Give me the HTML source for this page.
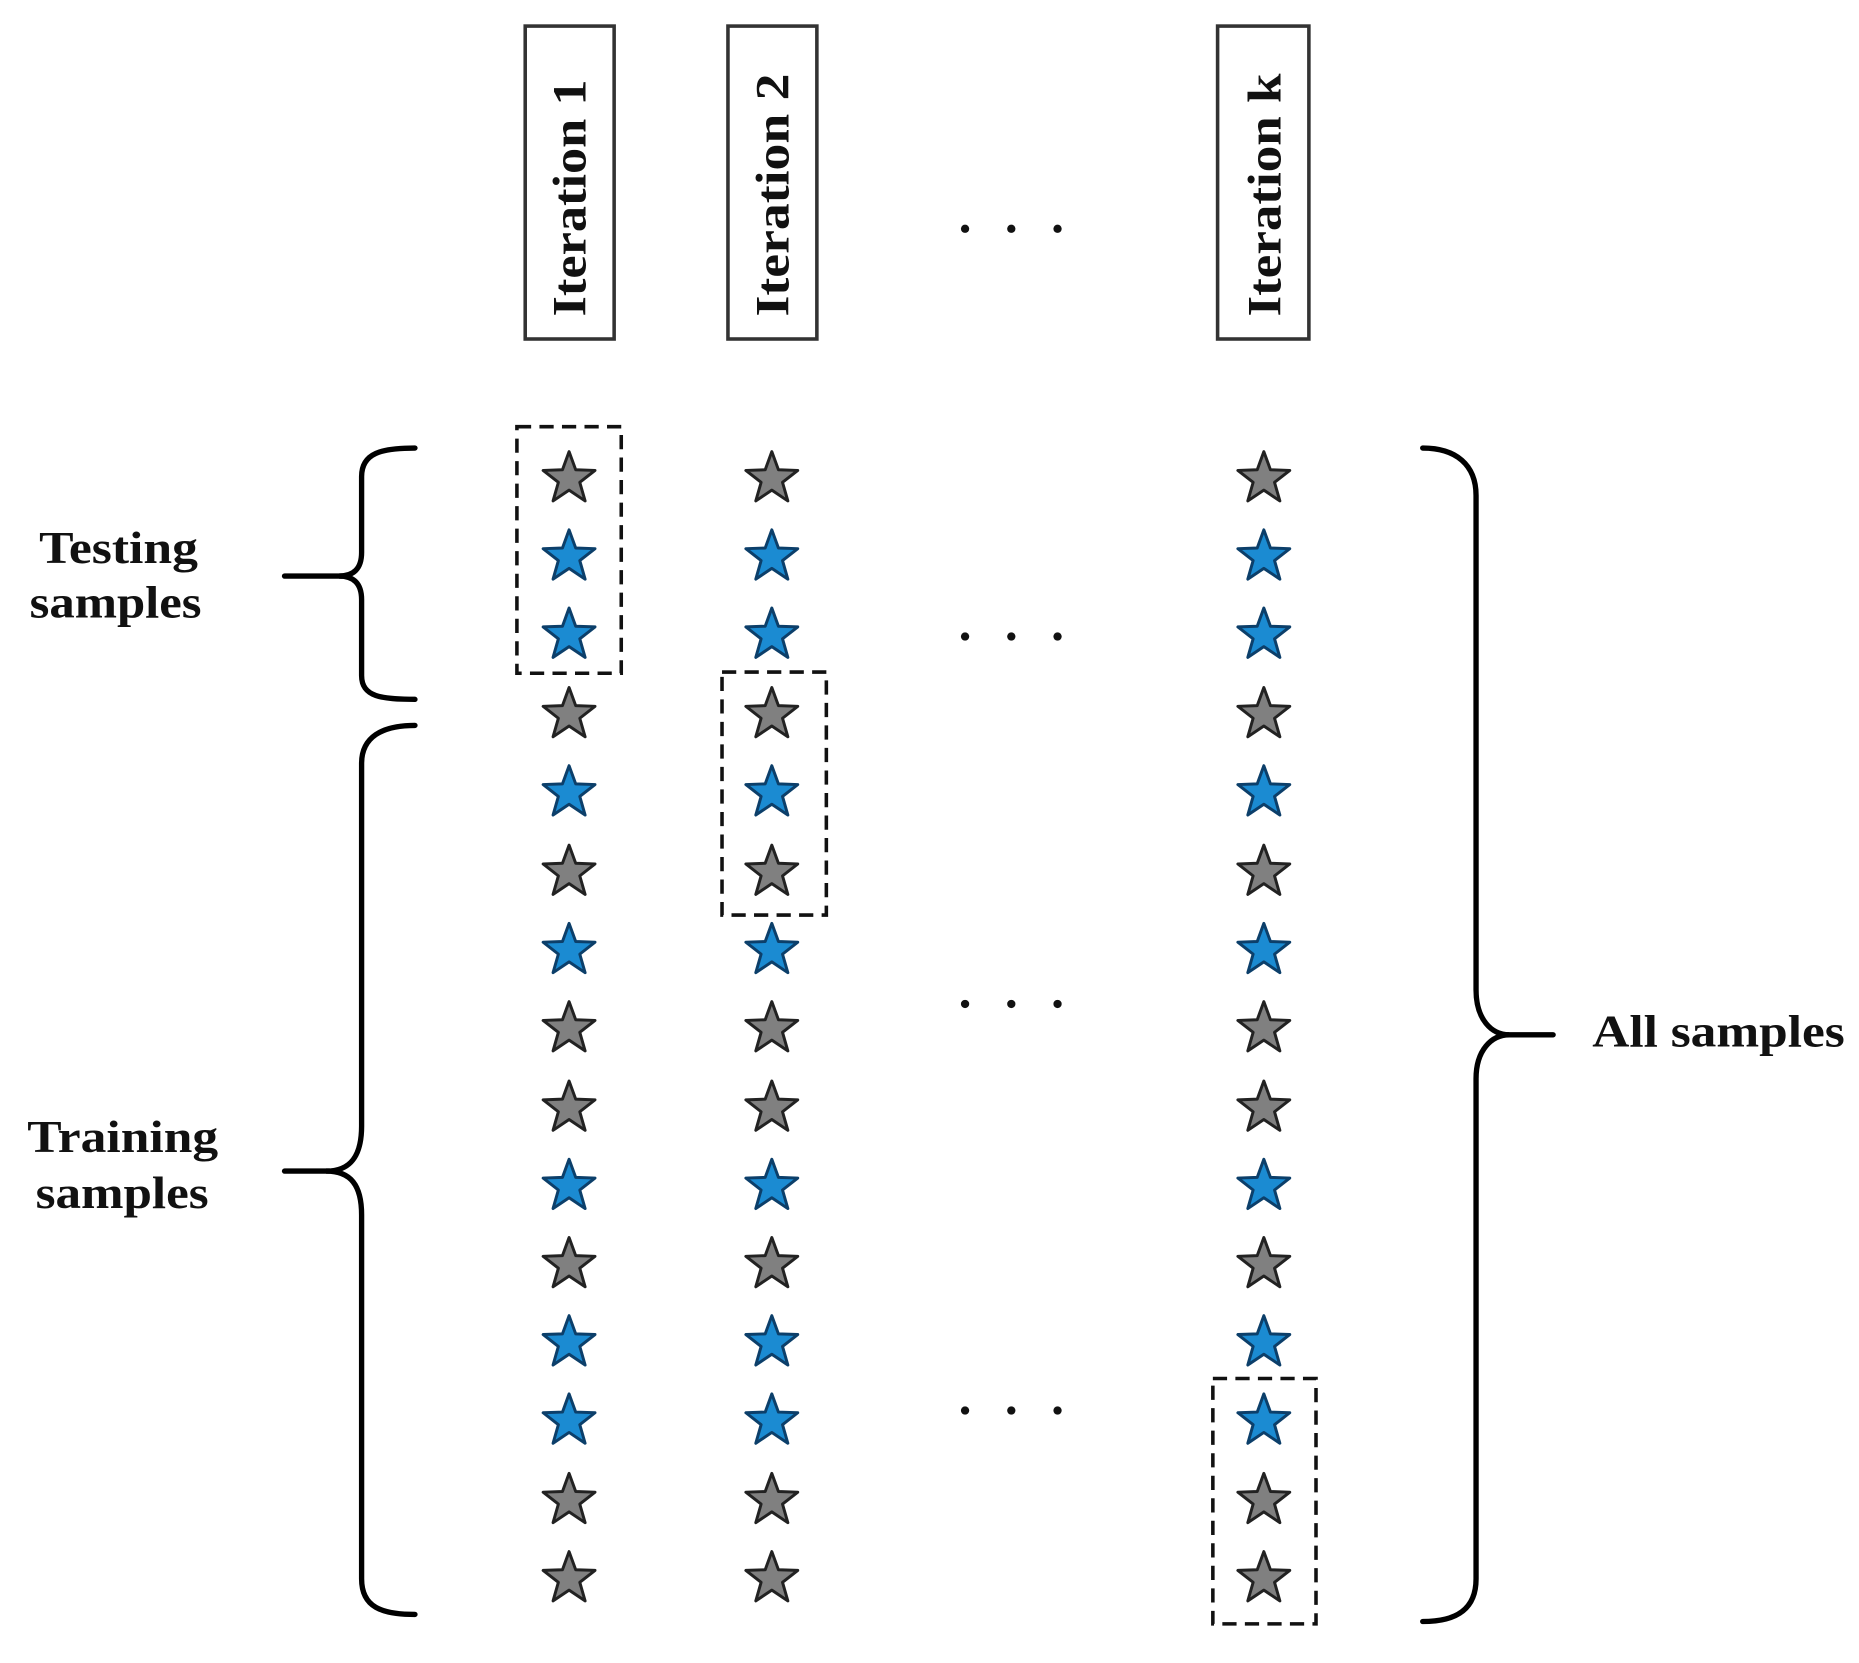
<!DOCTYPE html>
<html><head><meta charset="utf-8"><style>
html,body{margin:0;padding:0;background:#fff;}
svg{display:block;}
text{font-family:"Liberation Serif",serif;font-weight:bold;fill:#111;}
</style></head><body>
<svg width="1859" height="1663" viewBox="0 0 1568 1403" preserveAspectRatio="none" xmlns="http://www.w3.org/2000/svg">
<defs>
<path id="st" d="M0,-23 L5.58,-7.69 L21.87,-7.11 L9.03,2.94 L13.52,18.61 L0,9.5 L-13.52,18.61 L-9.03,2.94 L-21.87,-7.11 L-5.58,-7.69Z" stroke-width="2.5" stroke-linejoin="round"/>
</defs>
<g fill="#fff" stroke="#333" stroke-width="3">
<rect x="443" y="22" width="75" height="264"/>
<rect x="614" y="22" width="75" height="264"/>
<rect x="1027" y="22" width="77" height="264"/>
</g>
<text font-size="40" transform="translate(494,267) rotate(-90)" textLength="200" lengthAdjust="spacingAndGlyphs">Iteration 1</text>
<text font-size="40" transform="translate(665,267) rotate(-90)" textLength="205" lengthAdjust="spacingAndGlyphs">Iteration 2</text>
<text font-size="40" transform="translate(1080,267) rotate(-90)" textLength="205" lengthAdjust="spacingAndGlyphs">Iteration k</text>
<g fill="#111">
<circle cx="814" cy="193" r="3.5"/><circle cx="853" cy="193" r="3.5"/><circle cx="892" cy="193" r="3.5"/>
<circle cx="814" cy="537" r="3.5"/><circle cx="853" cy="537" r="3.5"/><circle cx="892" cy="537" r="3.5"/>
<circle cx="814" cy="847" r="3.5"/><circle cx="853" cy="847" r="3.5"/><circle cx="892" cy="847" r="3.5"/>
<circle cx="814" cy="1190" r="3.5"/><circle cx="853" cy="1190" r="3.5"/><circle cx="892" cy="1190" r="3.5"/>
</g>
<g id="col">
<use href="#st" x="480" y="404" fill="#808080" stroke="#222"/>
<use href="#st" x="480" y="470" fill="#1b8bd2" stroke="#0c3f6a"/>
<use href="#st" x="480" y="536" fill="#1b8bd2" stroke="#0c3f6a"/>
<use href="#st" x="480" y="603" fill="#808080" stroke="#222"/>
<use href="#st" x="480" y="669" fill="#1b8bd2" stroke="#0c3f6a"/>
<use href="#st" x="480" y="736" fill="#808080" stroke="#222"/>
<use href="#st" x="480" y="802" fill="#1b8bd2" stroke="#0c3f6a"/>
<use href="#st" x="480" y="868" fill="#808080" stroke="#222"/>
<use href="#st" x="480" y="935" fill="#808080" stroke="#222"/>
<use href="#st" x="480" y="1001" fill="#1b8bd2" stroke="#0c3f6a"/>
<use href="#st" x="480" y="1067" fill="#808080" stroke="#222"/>
<use href="#st" x="480" y="1133" fill="#1b8bd2" stroke="#0c3f6a"/>
<use href="#st" x="480" y="1199" fill="#1b8bd2" stroke="#0c3f6a"/>
<use href="#st" x="480" y="1266" fill="#808080" stroke="#222"/>
<use href="#st" x="480" y="1332" fill="#808080" stroke="#222"/>
</g>
<use href="#col" x="171"/>
<use href="#col" x="586"/>
<g fill="none" stroke="#111" stroke-width="3" stroke-dasharray="12,7">
<rect x="436" y="360" width="88" height="208"/>
<rect x="609" y="567" width="88" height="205"/>
<rect x="1023" y="1163" width="87" height="207"/>
</g>
<g fill="none" stroke="#000" stroke-width="4.5" stroke-linecap="round">
<path d="M350,378 C322,378 305,382 305,402 L305,466 C305,480 298,486 286,486 C298,486 305,492 305,506 L305,570 C305,588 322,590 350,590"/>
<path d="M240,486 L288,486"/>
<path d="M350,612 C322,612 305,622 305,644 L305,950 C305,975 296,988 275,988 C296,988 305,1000 305,1025 L305,1332 C305,1356 322,1362 350,1362"/>
<path d="M240,988 L278,988"/>
<path d="M1200,378 C1228,378 1245,392 1245,418 L1245,835 C1245,860 1258,873 1273,873 C1258,873 1245,886 1245,910 L1245,1332 C1245,1358 1228,1368 1200,1368"/>
<path d="M1270,873 L1310,873"/>
</g>
<text font-size="38" x="33" y="475" textLength="134" lengthAdjust="spacingAndGlyphs">Testing</text>
<text font-size="38" x="25" y="521" textLength="145" lengthAdjust="spacingAndGlyphs">samples</text>
<text font-size="38" x="23" y="972" textLength="161" lengthAdjust="spacingAndGlyphs">Training</text>
<text font-size="38" x="30" y="1019" textLength="146" lengthAdjust="spacingAndGlyphs">samples</text>
<text font-size="38" x="1343" y="883" textLength="213" lengthAdjust="spacingAndGlyphs">All samples</text>
</svg>
</body></html>
